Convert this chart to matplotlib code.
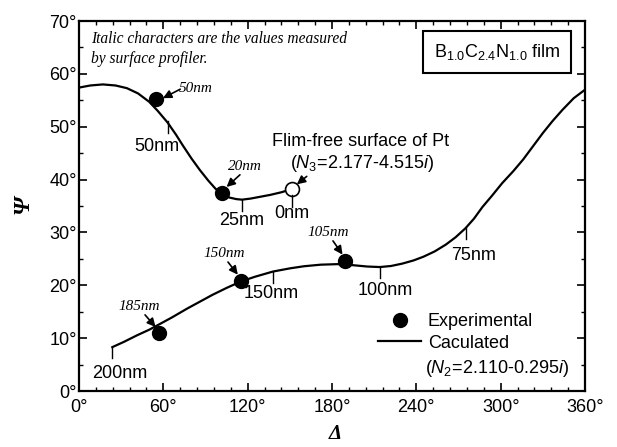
import numpy as np
import matplotlib
matplotlib.use("Agg")
import matplotlib.pyplot as plt

plt.rcParams['font.family'] = ['Liberation Sans', 'DejaVu Sans']
plt.rcParams['mathtext.fontset'] = 'custom'
plt.rcParams['mathtext.rm'] = 'Liberation Sans'
plt.rcParams['mathtext.it'] = 'Liberation Sans:italic'

# calculated curve, thin film branch from 0nm (Pt surface) up to 50nm and beyond
delta_upper = [0, 8, 17, 26, 34, 42, 50, 56, 63, 69, 74, 80, 86, 92, 97, 102,
               107, 112, 116, 122, 128, 136, 144, 151.5]
psi_upper = [57.4, 57.8, 58.0, 57.8, 57.3, 56.3, 54.7, 53.0, 50.8, 48.5, 46.4,
             44.0, 41.8, 39.8, 38.3, 37.2, 36.6, 36.3, 36.2, 36.4, 36.7, 37.1,
             37.6, 38.2]

# wrapped branch (75nm ... 200nm)
delta_lower = [23.7, 32, 41, 50, 57, 66, 77, 86, 95, 105, 115, 125, 138, 150,
               160, 172, 184, 195, 205, 214, 222, 230, 238, 245, 253, 261, 268,
               275, 281, 287, 294, 301, 309, 316, 323, 330, 337, 344, 352, 360]
psi_lower = [8.3, 9.3, 10.5, 11.6, 12.6, 13.9, 15.6, 16.9, 18.2, 19.5, 20.7,
             21.6, 22.6, 23.2, 23.6, 23.9, 24.0, 23.8, 23.55, 23.45, 23.65, 24.1,
             24.7, 25.4, 26.4, 27.7, 29.1, 30.8, 32.6, 34.8, 37.0, 39.3, 41.6,
             43.8, 46.3, 48.8, 51.1, 53.2, 55.4, 57.0]

# experimental points and their profiler thickness
exp_delta = [55, 101.7, 115, 57, 189]
exp_psi = [55.2, 37.4, 20.8, 11.0, 24.6]
exp_labels = ['50nm', '20nm', '150nm', '185nm', '105nm']

pt_delta, pt_psi = 151.5, 38.2

# thickness marks on the calculated curve
mark_delta = [63.5, 116, 151.5, 23.7, 138, 214, 275]
mark_psi = [51.0, 36.2, 37.0, 8.3, 22.6, 23.45, 30.8]
mark_labels = ['50nm', '25nm', '0nm', '200nm', '150nm', '100nm', '75nm']

fig = plt.figure(figsize=(6.17, 4.47), dpi=100)
ax = fig.add_axes([79/617, 1-391/447, 506/617, 370/447])

ax.plot(delta_upper, psi_upper, color='black', lw=1.6)
ax.plot(delta_lower, psi_lower, color='black', lw=1.6, label='Caculated')
ax.plot(exp_delta, exp_psi, 'o', color='black', ms=10, label='Experimental')
ax.plot([pt_delta], [pt_psi], 'o', mfc='white', mec='black', mew=1.2, ms=10)

# short ticks + labels for calculated thickness
label_pos = [(55.5, 46.2), (116, 32.3), (151.5, 33.5), (29, 3.4),
             (137, 18.5), (218, 19.1), (281, 25.7)]
for d, p, lab, (tx, ty) in zip(mark_delta, mark_psi, mark_labels, label_pos):
    ax.plot([d, d], [p, p - 2.1], color='black', lw=1.0)
    ax.text(tx, ty, lab, fontsize=13, ha='center', va='center')

# italic measured values with arrows
ital_text = [(83, 57.3), (118, 42.4), (103, 26.1), (42.7, 15.9), (177, 29.9)]
ital_tail = [(72, 57.1), (114.5, 40.9), (106, 24.4), (47, 14.4), (180.7, 28.4)]
ital_head = [(59.7, 55.4), (105, 38.6), (113, 22.0), (54.5, 12.1), (187.5, 25.8)]
for lab, (tx, ty), tail, head in zip(exp_labels, ital_text, ital_tail, ital_head):
    ax.text(tx, ty, lab, fontsize=11, family='Liberation Serif', style='italic',
            ha='center', va='center')
    ax.annotate('', xy=head, xytext=tail,
                arrowprops=dict(arrowstyle='-|>,head_length=0.5,head_width=0.25',
                                color='black', lw=1.2, shrinkA=0, shrinkB=0))

ax.annotate('', xy=(155, 39.1), xytext=(162, 40.6),
            arrowprops=dict(arrowstyle='-|>,head_length=0.5,head_width=0.25',
                            color='black', lw=1.2, shrinkA=0, shrinkB=0))
ax.text(137.3, 46.3, 'Flim-free surface of Pt', fontsize=13, va='baseline')
ax.text(150, 42.2, '($N_3$=2.177-4.515$i$)', fontsize=13, va='baseline')

ax.text(0.024, 0.973, 'Italic characters are the values measured\nby surface profiler.',
        transform=ax.transAxes, fontsize=11.2, family='Liberation Serif',
        style='italic', va='top', ha='left', linespacing=1.3)

ax.text(0.826, 0.917, 'B$_{1.0}$C$_{2.4}$N$_{1.0}$ film', transform=ax.transAxes,
        fontsize=13, ha='center', va='center',
        bbox=dict(boxstyle='square,pad=0.6', fc='white', ec='black', lw=1.5))

leg = ax.legend(handles=[ax.lines[2], ax.lines[1]], loc='upper left',
                bbox_to_anchor=(378/617, 1-313/447), bbox_transform=fig.transFigure,
                frameon=False, fontsize=13, borderpad=0, borderaxespad=0,
                handlelength=2.4, handletextpad=0.35, labelspacing=0.25,
                numpoints=1)
ax.text(0.684, 0.049, '($N_2$=2.110-0.295$i$)', transform=ax.transAxes,
        fontsize=13, va='baseline')

ax.set_xlim(0, 360)
ax.set_ylim(0, 70)
ax.set_xticks(np.arange(0, 361, 60))
ax.set_xticks(np.arange(0, 361, 12), minor=True)
ax.set_yticks(np.arange(0, 71, 10))
ax.set_yticks(np.arange(0, 71, 5), minor=True)
ax.set_xticklabels([f'{v}°' for v in range(0, 361, 60)])
ax.set_yticklabels([f'{v}°' for v in range(0, 71, 10)])
ax.tick_params(which='both', direction='in', top=True, right=True, labelsize=13)
ax.tick_params(which='major', length=6, width=1.2)
ax.tick_params(which='minor', length=3, width=1.0)
ax.tick_params(axis='y', pad=1.5)
ax.tick_params(axis='x', pad=5.5)
for s in ax.spines.values():
    s.set_linewidth(1.6)

ax.text(-0.11, 0.503, 'Ψ', transform=ax.transAxes, rotation=90, fontsize=17,
        family='Liberation Serif', style='italic', weight='bold',
        ha='center', va='center')
ax.text(0.506, -0.116, 'Δ', transform=ax.transAxes, fontsize=15,
        family='Liberation Serif', style='italic', weight='bold',
        ha='center', va='center')

fig.savefig('out.png', dpi=100)
